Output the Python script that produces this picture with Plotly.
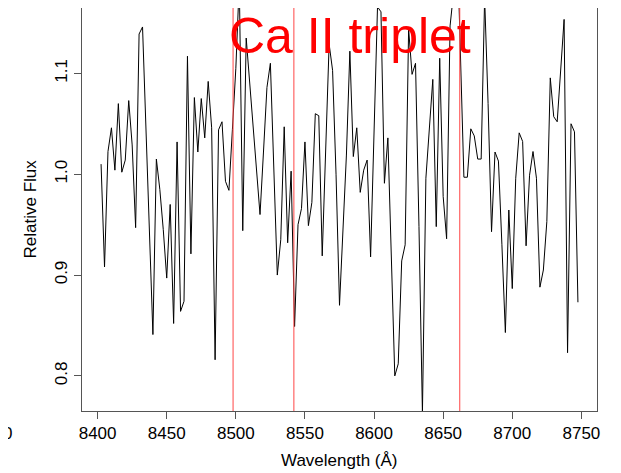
import plotly.graph_objects as go

# Wavelength grid (Angstrom) and relative flux
wl_start = 8402.5
wl_step = 2.5
flux = [
    1.010, 0.908, 1.0225, 1.046, 1.004, 1.070, 1.002, 1.014, 1.073, 1.029,
    0.947, 1.139, 1.146, 1.044, 0.943, 0.841, 1.015, 0.985, 0.945, 0.897,
    0.970, 0.852, 1.032, 0.864, 0.874, 1.117, 0.921, 1.076, 1.022, 1.075,
    1.036, 1.092, 1.046, 0.816, 1.044, 1.052, 0.993, 0.984, 1.044, 1.105,
    1.190, 0.944, 1.135, 1.0915, 1.047, 1.004, 0.960, 1.022, 1.086, 1.110,
    1.006, 0.900, 0.935, 1.047, 0.932, 1.003, 0.849, 0.950, 0.966, 1.032,
    0.949, 0.972, 1.060, 1.058, 0.919, 1.015, 1.129, 1.103, 1.000, 0.870,
    0.940, 1.019, 1.122, 1.0175, 1.046, 0.982, 1.004, 1.014, 0.918, 1.035,
    1.166, 1.161, 0.991, 1.036, 0.924, 0.800, 0.812, 0.914, 0.930, 1.144,
    1.099, 1.110, 0.948, 0.763, 0.996, 1.050, 1.094, 0.948, 1.115, 0.978,
    0.936, 1.147, 1.180, 1.240, 1.120, 0.997, 0.997, 1.045, 1.038, 1.015,
    1.015, 1.175, 1.070, 0.943, 1.022, 1.013, 0.930, 0.843, 0.9645, 0.8866,
    0.996, 1.041, 1.0325, 0.929, 0.999, 1.0225, 0.996, 0.888, 0.905, 0.953,
    1.0955, 1.057, 1.052, 1.105, 1.1535, 0.823, 1.050, 1.042, 0.873,
]
wavelength = [wl_start + wl_step * i for i in range(len(flux))]

ca_lines = [8498, 8542, 8662]
x_ticks = [8400, 8450, 8500, 8550, 8600, 8650, 8700, 8750]
y_ticks = [0.8, 0.9, 1.0, 1.1]
x_range = [8388.7, 8761.3]
y_range = [0.7652, 1.1648]

FONT = "Liberation Sans, Arial, Helvetica, sans-serif"

fig = go.Figure()
fig.add_trace(go.Scatter(
    x=wavelength, y=flux, mode="lines",
    line=dict(color="black", width=1),
    hoverinfo="skip", showlegend=False,
))

for cl in ca_lines:
    fig.add_shape(type="line", x0=cl, x1=cl, xref="x", y0=0, y1=1, yref="paper",
                  line=dict(color="rgb(255,70,70)", width=1), layer="above")

fig.add_annotation(x=8582.5, y=1.134, xref="x", yref="y", text="Ca II triplet",
                   showarrow=False, font=dict(family=FONT, size=50, color="red"),
                   xanchor="center", yanchor="middle", yshift=3)

# axis titles
fig.add_annotation(x=0.5, y=0, xref="paper", yref="paper", text="Wavelength (Å)",
                   showarrow=False, font=dict(family=FONT, size=17, color="black"),
                   xanchor="center", yanchor="middle", yshift=-49)
fig.add_annotation(x=0, y=0.5, xref="paper", yref="paper", text="Relative Flux",
                   showarrow=False, font=dict(family=FONT, size=17, color="black"),
                   textangle=-90, xanchor="center", yanchor="middle", xshift=-52)
# stray clipped label at the far left
fig.add_annotation(x=0, y=0, xref="paper", yref="paper", text="0",
                   showarrow=False, font=dict(family=FONT, size=17, color="black"),
                   xanchor="right", yanchor="middle", xshift=-68, yshift=-22)

axis_common = dict(
    showgrid=False, zeroline=False, showline=True, mirror=True,
    linecolor="#555555", linewidth=1,
    ticks="outside", ticklen=7, tickcolor="#555555", tickwidth=1,
    tickfont=dict(family=FONT, size=17, color="black"),
)

fig.update_layout(
    width=613, height=465,
    margin=dict(l=74, r=24, t=0, b=62),
    paper_bgcolor="white", plot_bgcolor="white",
    xaxis=dict(range=x_range, tickvals=x_ticks, **axis_common),
    yaxis=dict(range=y_range, tickvals=y_ticks, tickformat=".1f", tickangle=-90,
               **axis_common),
)

fig.write_html("out.html")
